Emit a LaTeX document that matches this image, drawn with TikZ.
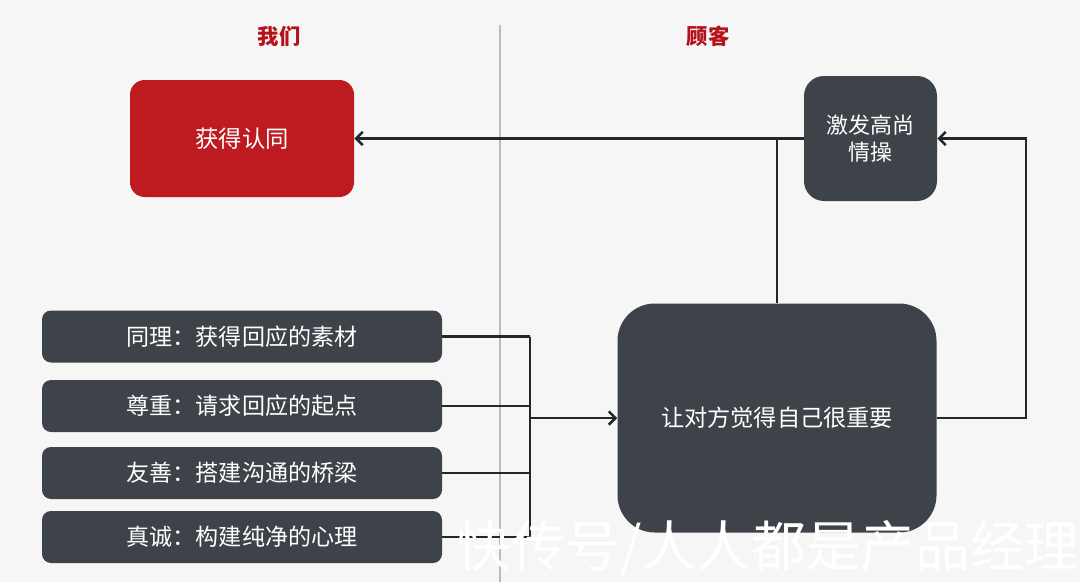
\documentclass[tikz,border=0pt]{standalone}
\usepackage{fontspec}
\newfontfamily\cjk{Noto Sans CJK SC}
\usetikzlibrary{arrows.meta}
\definecolor{bgc}{HTML}{F6F6F7}
\definecolor{darkbox}{HTML}{3E434A}
\definecolor{redbox}{HTML}{BE1B21}
\definecolor{titlered}{HTML}{B5121B}
\definecolor{linec}{HTML}{22272C}
\definecolor{divc}{HTML}{BBBBBB}
\tikzset{
  px/.style={x=0.75pt,y=-0.75pt},
  box/.style={rounded corners=#1, inner sep=0pt, text=white, align=center, font=\cjk\fontsize{17.5}{21}\selectfont},
  leftbox/.style={box=6.75pt, fill=darkbox, minimum width=300pt, minimum height=39pt, font=\cjk\fontsize{17.3}{21}\selectfont},
  title/.style={text=titlered, font=\cjk\bfseries\fontsize{16}{20}\selectfont},
  conn/.style={draw=linec, line width=1.9pt},
  arr/.style={conn, -{Straight Barb[length=5pt,width=10pt]}},
}
\begin{document}
\begin{tikzpicture}[px]
\useasboundingbox (0,0) rectangle (1080,582);
\fill[bgc] (0,0) rectangle (1080,582);
\draw[divc, line width=0.8pt] (500,25) -- (500,582);

\node[title] (t1) at (279,36) {我们};
\node[title] (t2) at (708,36) {顾客};

\node[box=11pt, fill=redbox, minimum width=168pt, minimum height=87.75pt] (rentong) at (242,138.5) {获得认同};
\node[box=15pt, fill=darkbox, minimum width=99.75pt, minimum height=93.75pt, font=\cjk\fontsize{16.5}{20}\selectfont] (jifa) at (870.5,138.5) {激发高尚\\情操};
\node[box=28pt, fill=darkbox, minimum width=239.25pt, minimum height=171.75pt, font=\cjk\fontsize{17.4}{21}\selectfont] (big) at (777,418) {让对方觉得自己很重要};

\node[leftbox] (b1) at (242,336.5) {同理：获得回应的素材};
\node[leftbox] (b2) at (242,406) {尊重：请求回应的起点};
\node[leftbox] (b3) at (242,473) {友善：搭建沟通的桥梁};
\node[leftbox] (b4) at (242,537) {真诚：构建纯净的心理};

\coordinate (bus) at (530,418);
\coordinate (rturn) at (1026,418);
\draw[conn] (b1.east) -- (b1.east -| bus);
\draw[conn] (b2.east) -- (b2.east -| bus);
\draw[conn] (b3.east) -- (b3.east -| bus);
\draw[conn] (b4.east) -- (b4.east -| bus);
\draw[conn] (b1.east -| bus) -- (b4.east -| bus);
\draw[arr] (bus) -- (big.west);

\draw[arr] (jifa.west) -- (rentong.east);
\draw[conn] (big.north) -- (big.north |- jifa.west);
\draw[arr] (big.east) -- (rturn) |- (jifa.east);

\node[text=white, font=\cjk\fontsize{41}{48}\selectfont, inner sep=0pt] (wm) at (768,548) {快传号/人人都是产品经理};
\end{tikzpicture}
\end{document}
